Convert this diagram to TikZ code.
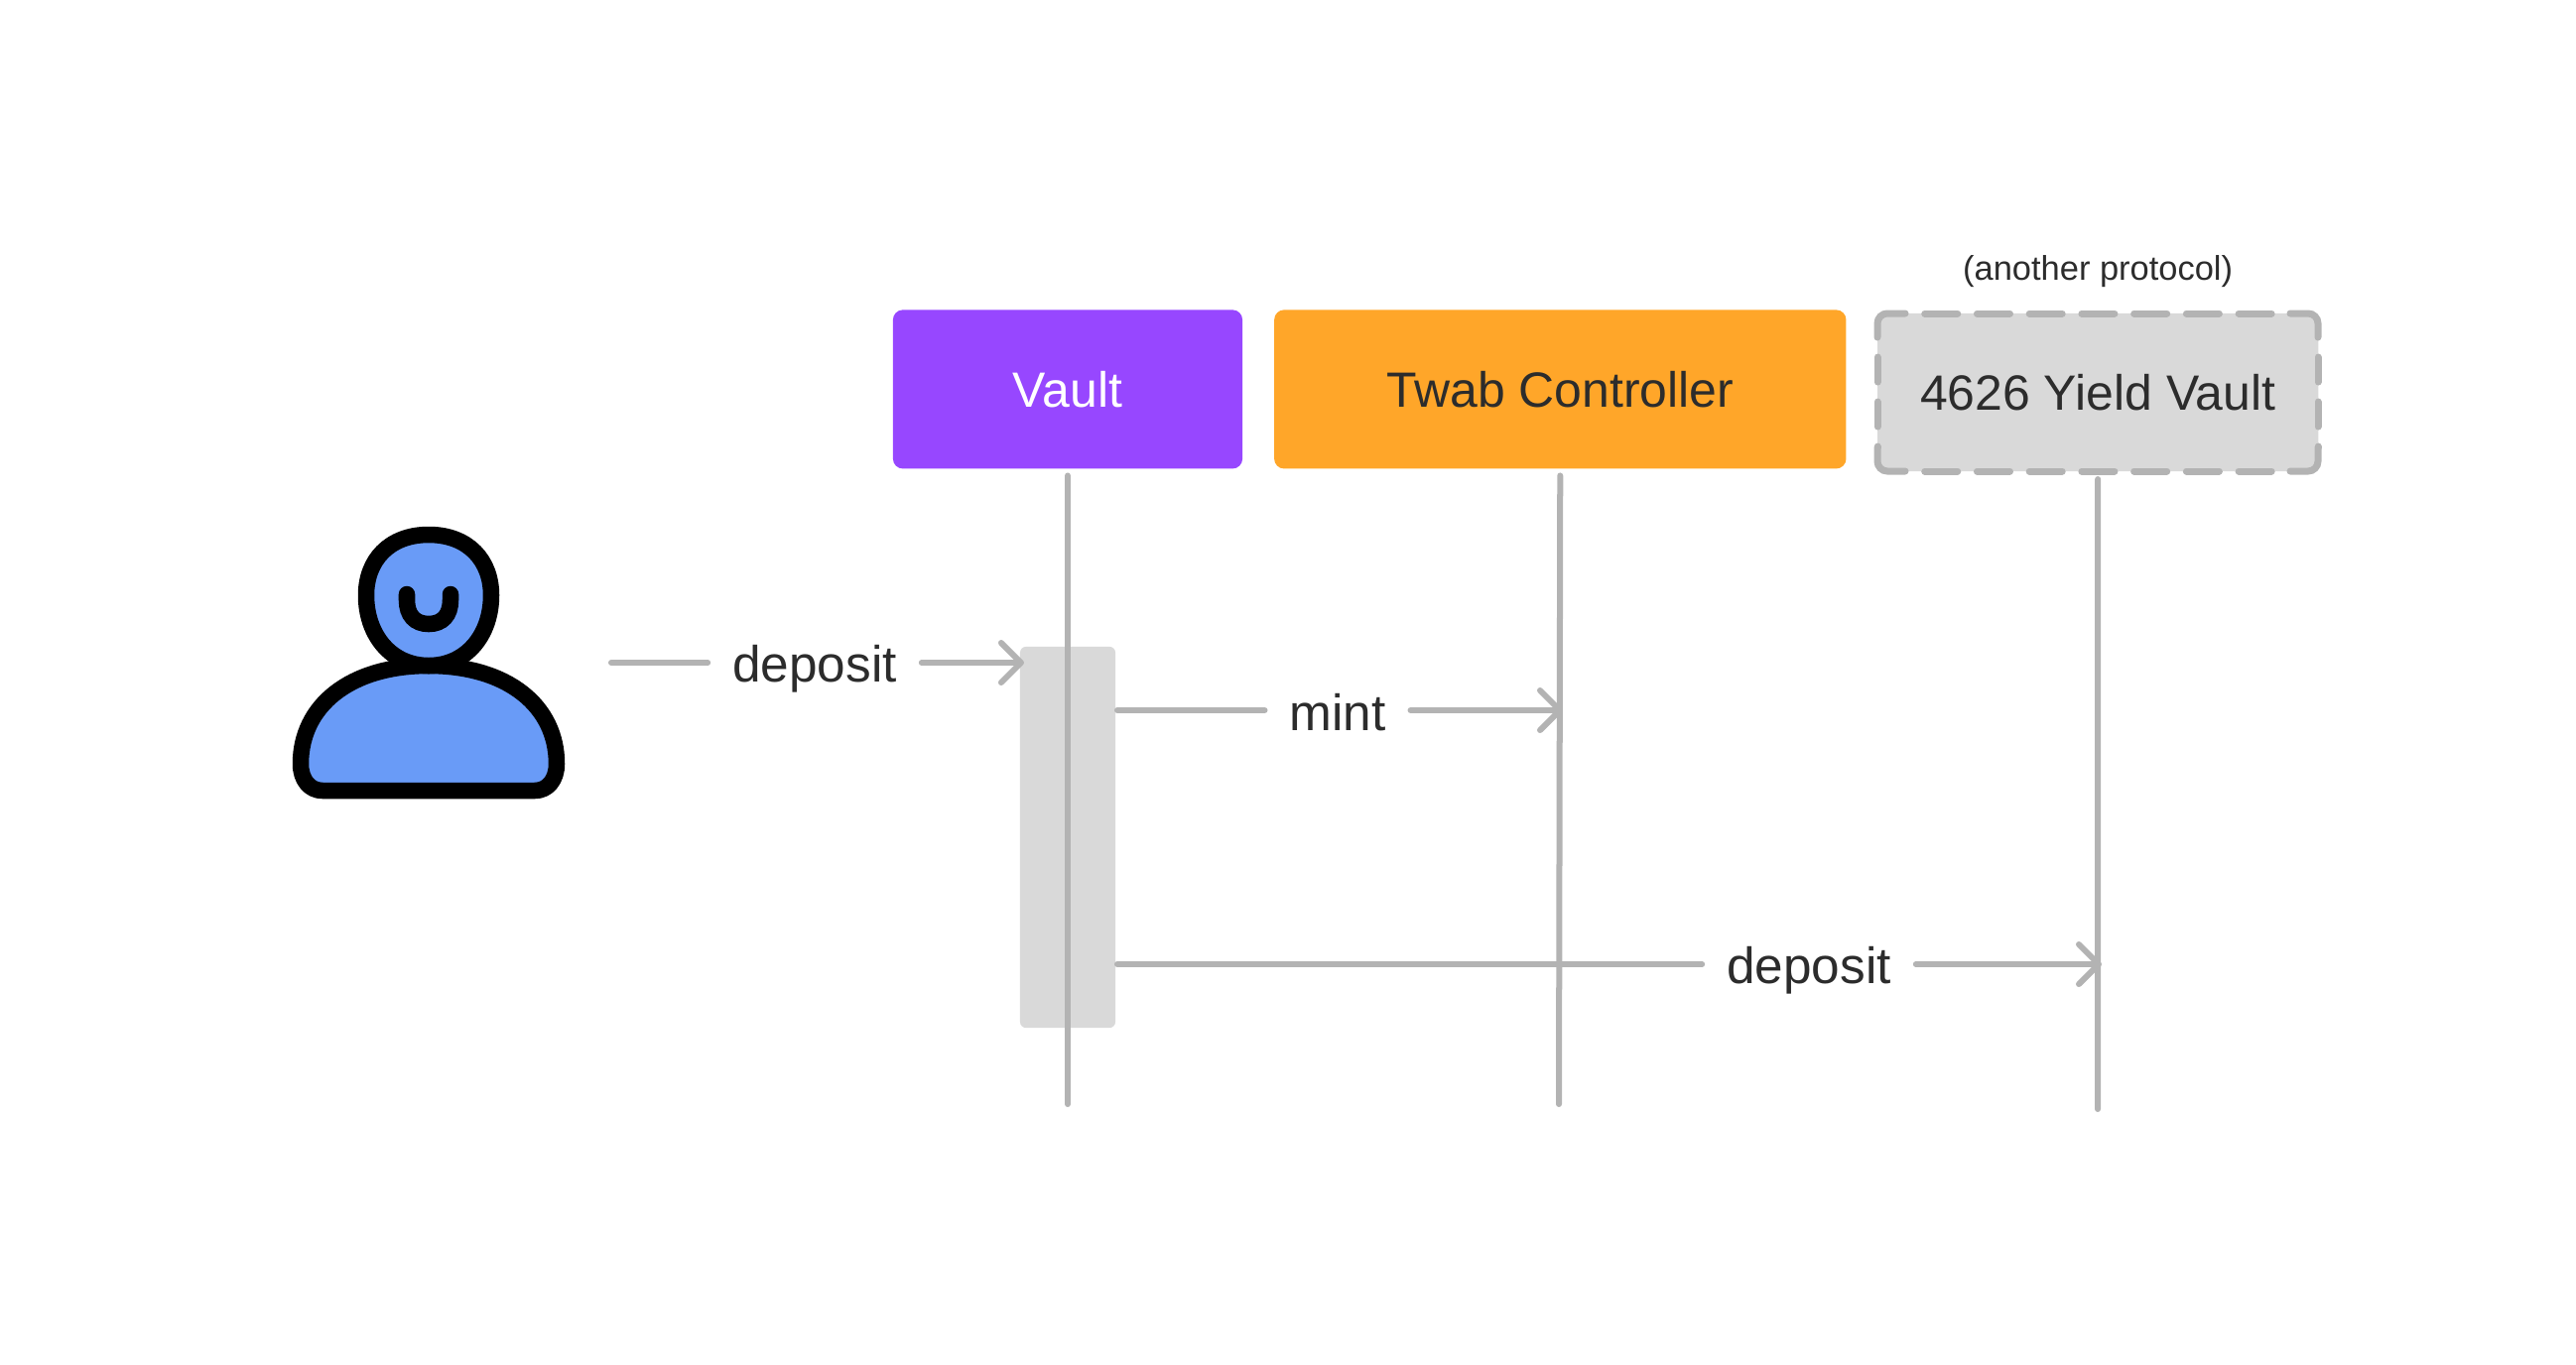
\documentclass[tikz,border=0pt]{standalone}
\usepackage{fontspec}
\setmainfont{Liberation Sans}
\usetikzlibrary{positioning,arrows.meta}
\definecolor{vaultpurple}{HTML}{9747FF}
\definecolor{twaborange}{HTML}{FFA629}
\definecolor{boxgrey}{HTML}{D9D9D9}
\definecolor{linegrey}{HTML}{B3B3B3}
\definecolor{userblue}{HTML}{699BF7}
\definecolor{textdark}{HTML}{2C2C2C}

\begin{document}
\begin{tikzpicture}[x=0.01cm, y=-0.01cm, node distance=0.32cm,
  box/.style={rounded corners=0.1cm, align=center, outer sep=0pt, minimum height=1.6cm, text=textdark, text depth=0pt, font=\fontsize{14.2pt}{17pt}\selectfont},
  other/.style={box, fill=boxgrey, minimum width=4.44cm, minimum height=1.59cm},
  frame/.style={draw=linegrey, line width=0.07cm, line cap=round, rounded corners=0.1cm},
  sidex/.style={frame, dash pattern=on 0.33cm off 0.197cm, dash phase=0.33cm},
  sidey/.style={frame, dash pattern=on 0.25cm off 0.2cm, dash phase=0.25cm},
  active/.style={fill=boxgrey, rounded corners=0.06cm, outer sep=0pt, minimum width=0.96cm, minimum height=3.84cm},
  lbl/.style={text=textdark, inner xsep=0.25cm, inner ysep=0pt, outer sep=0pt, font=\fontsize{14.6pt}{17pt}\selectfont},
  life/.style={draw=linegrey, line width=0.06cm, line cap=round},
  arrow/.style={life, shorten >=-0.04cm, -{Straight Barb[length=0.2cm, width=0.4cm, round]}},
  figure/.style={draw=black, fill=userblue, line width=0.165cm, line join=round}]
\useasboundingbox (0,0) rectangle (2596,1375);
% header boxes
\node[box, fill=vaultpurple, text=white, minimum width=3.52cm] (vault) at (1076,392.4) {Vault};
\node[box, fill=twaborange, minimum width=5.76cm, right=of vault] (twab) {Twab Controller};
\node[other, anchor=west] (yield) at (1892,395.5) {4626 Yield Vault};
\node[above=0.14cm of yield, text=textdark, font=\fontsize{9.8pt}{12pt}\selectfont] (proto) {(another protocol)};
% dashed frame of the yield vault
\draw[frame] (1892,340) |- (1920,316);
\draw[frame] (2308,316) -| (2336,340);
\draw[frame] (1892,451) |- (1920,475);
\draw[frame] (2308,475) -| (2336,451);
\draw[sidex] (1920,316) -- (2308,316);
\draw[sidex] (1920,475) -- (2308,475);
\draw[sidey] (1892,340) -- (1892,451);
\draw[sidey] (2336,340) -- (2336,451);
% activation bar
\node[active] (bar) at (1076,844) {};
% lifelines
\coordinate (vaultend) at (1076,1113);
\coordinate (twabend) at (1571,1113);
\coordinate (yieldend) at (2114,1118);
\draw[life, shorten <=0.07cm] (vault.south) -- (vaultend);
\draw[life, shorten <=0.07cm] (twab.south) -- (twabend);
\draw[life, shorten <=0.08cm] (yield.south) -- (yieldend);
% user
\draw[figure] (432,671) .. controls (352,671) and (303,712) .. (303,770) .. controls (303,786) and (312,797) .. (325,797) -- (539,797) .. controls (552,797) and (561,786) .. (561,770) .. controls (561,712) and (512,671) .. (432,671) -- cycle;
\draw[figure] (432,539) .. controls (392,539) and (369,565) .. (369,600) .. controls (369,640) and (394,671) .. (432,671) .. controls (470,671) and (495,640) .. (495,600) .. controls (495,565) and (472,539) .. (432,539) -- cycle;
\draw[draw=black, line width=0.165cm, line cap=round] (410,599) -- (410,605) .. controls (410,620) and (418,629) .. (432,629) .. controls (446,629) and (454,620) .. (454,605) -- (454,599);
% messages
\coordinate (user) at (616,668);
\coordinate (barmint) at (1126,716);
\coordinate (bardep) at (1126,972);
\node[lbl] (dep1) at (821,674) {deposit};
\node[lbl] (mint) at (1348,718) {mint};
\node[lbl] (dep2) at (1823,978) {deposit};
\draw[life] (user) -- (dep1.west |- user);
\draw[arrow] (dep1.east |- user) -- (bar.west |- user);
\draw[life] (barmint) -- (mint.west |- barmint);
\draw[arrow] (mint.east |- barmint) -- (twabend |- barmint);
\draw[life] (bardep) -- (dep2.west |- bardep);
\draw[arrow] (dep2.east |- bardep) -- (yieldend |- bardep);
\end{tikzpicture}
\end{document}
